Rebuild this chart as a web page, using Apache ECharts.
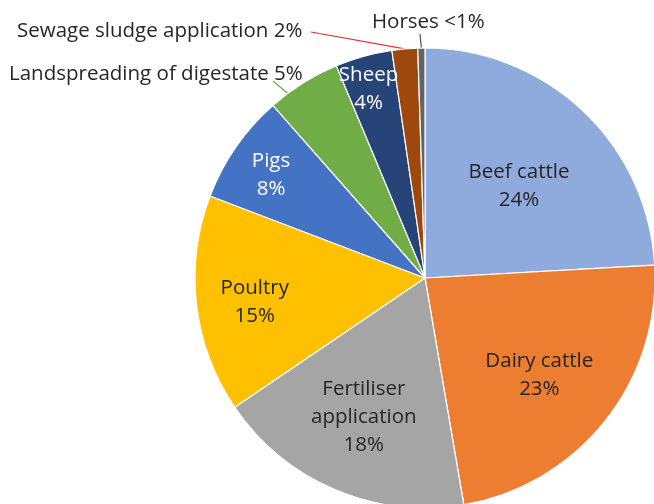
<!DOCTYPE html>
<html>
<head>
<meta charset="utf-8">
<script src="https://cdn.jsdelivr.net/npm/echarts@6/dist/echarts.min.js"></script>
<style>
  html, body { margin: 0; padding: 0; background: #fff; }
  #main { width: 654px; height: 504px; }
</style>
</head>
<body>
<div id="main"></div>
<script>
// sources, clockwise from 12 o'clock
var categories = ["Beef cattle", "Dairy cattle", "Fertiliser application", "Poultry", "Pigs",
  "Landspreading of digestate", "Sheep", "Sewage sludge application", "Horses"];
var shares = [24.1, 23.2, 18.2, 15.3, 7.7, 5.2, 4.0, 1.8, 0.5];
var shareLabels = ["24%", "23%", "18%", "15%", "8%", "5%", "4%", "2%", "<1%"];
var labelNames = ["Beef cattle", "Dairy cattle", "Fertiliser\napplication", "Poultry", "Pigs",
  "Landspreading of digestate", "Sheep", "Sewage sludge application", "Horses"];

var colors = ["#8FAADC", "#ED7D31", "#A5A5A5", "#FFC000", "#4472C4",
  "#70AD47", "#264478", "#9E480E", "#636363"];
var textColors = ["#262626", "#262626", "#262626", "#262626", "#ffffff",
  "#262626", "#ffffff", "#262626", "#262626"];

// nudges for the labels that sit inside the slices
var insideShift = {
  0: [13, -6], 1: [22, 24], 2: [-15, 31], 3: [-53, 10], 4: [-57, -36], 6: [-25, -75]
};
// labels written outside, with their leader line
var outsideLabels = {
  5: { x: 9, y: 74, start: [273, 81], end: [292, 97], line: "#70AD47" },
  7: { x: 17, y: 31, start: [311, 32], line: "#E0303A" },
  8: { x: 372, y: 22, start: [420, 34], line: "#44546A" }
};

var chart = echarts.init(document.getElementById("main"));

var data = categories.map(function (c, i) {
  var out = outsideLabels[i];
  return {
    name: c,
    value: shares[i],
    itemStyle: { color: colors[i] },
    label: {
      color: textColors[i],
      position: out ? "outside" : "inside",
      formatter: out ? labelNames[i] + " " + shareLabels[i] : labelNames[i] + "\n" + shareLabels[i]
    },
    labelLine: { show: !!out, lineStyle: { color: out ? out.line : "#000", width: 1.2 } }
  };
});

chart.setOption({
  animation: false,
  series: [
    {
      type: "pie",
      center: [425, 278],
      radius: 230,
      startAngle: 90,
      clockwise: true,
      avoidLabelOverlap: false,
      itemStyle: { borderColor: "#ffffff", borderWidth: 1.2 },
      label: {
        fontFamily: "Open Sans",
        fontSize: 20.5,
        lineHeight: 28,
        align: "center"
      },
      labelLayout: function (params) {
        var i = params.dataIndex;
        var out = outsideLabels[i];
        if (out) {
          var edge = out.end || (params.labelLinePoints ? params.labelLinePoints[0] : out.start);
          return {
            x: out.x,
            y: out.y,
            align: "left",
            verticalAlign: "middle",
            labelLinePoints: [out.start, edge, edge]
          };
        }
        var s = insideShift[i] || [0, 0];
        return { dx: s[0], dy: s[1] };
      },
      data: data
    }
  ]
});
</script>
</body>
</html>
